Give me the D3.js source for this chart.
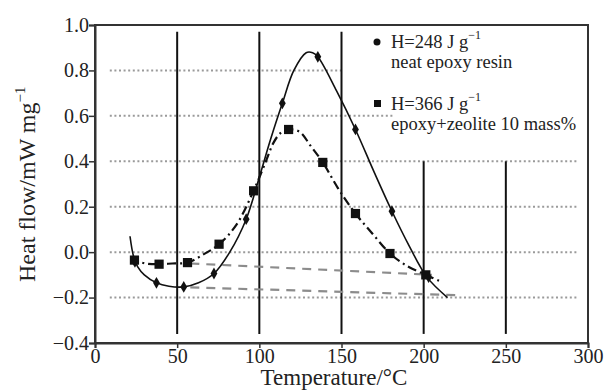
<!DOCTYPE html>
<html>
<head>
<meta charset="utf-8">
<script src="https://cdn.jsdelivr.net/npm/d3@7"></script>
<style>
  body { margin: 0; background: #fff; }
  text { font-family: "Liberation Serif", "Times New Roman", serif; fill: #222; }
</style>
</head>
<body>
<div id="chart"></div>
<script>
// neat epoxy resin, solid line [temperature, heat flow]
var neatCurve = [[21.3,0.07],[23.5,-0.02],[26,-0.065],[30,-0.1],[37.4,-0.135],[45,-0.15],[54,-0.153],
  [63,-0.135],[72.4,-0.094],[82,0.0],[92,0.145],[100,0.33],[107,0.5],[114,0.655],[121,0.8],
  [128.5,0.878],[132.4,0.878],[135.6,0.86],[147,0.71],[158.5,0.54],[170,0.35],[180.7,0.18],
  [191,0.03],[202,-0.11],[214.5,-0.2]];
var neatMarkers = [[24.3,-0.043],[37.4,-0.135],[54,-0.153],[72.4,-0.094],[92,0.145],[114,0.655],
  [135.6,0.86],[158.5,0.54],[180.7,0.18],[203,-0.11]];

// epoxy + zeolite 10 mass%, dash-dot line
var zeoCurve = [[22,-0.02],[24,-0.035],[31,-0.05],[39,-0.053],[47,-0.05],[56.3,-0.046],[66,-0.01],
  [75.5,0.035],[86,0.12],[96.5,0.27],[104,0.4],[108.5,0.48],[113,0.525],[117.8,0.54],[124.5,0.53],
  [131,0.47],[138.6,0.395],[148,0.28],[158.5,0.17],[169,0.08],[179.5,-0.006],[189,-0.057],
  [201.3,-0.1],[210.5,-0.13]];
var zeoMarkers = [[24,-0.035],[39,-0.053],[56.3,-0.046],[75.5,0.035],[96.5,0.27],[117.8,0.54],
  [138.6,0.395],[158.5,0.17],[179.5,-0.006],[201.3,-0.1]];

// integration baselines (gray dashed)
var baseUpper = [[58,-0.05],[205,-0.1]];
var baseLower = [[58,-0.155],[222,-0.19]];

// reference verticals: temperature, top value
var vLines = [[50,0.97],[100,0.97],[150,0.97],[200,0.4],[250,0.4]];
var vBottom = -0.36;
// dotted horizontals: value, start temp, end temp
var hLines = [[0.8,9,150],[0.6,9,181],[0.4,9,293],[0.2,9,293],[0.0,9,293],[-0.2,9,293]];

var xTicks = [0,50,100,150,200,250,300];
var yTicks = [-0.4,-0.2,0.0,0.2,0.4,0.6,0.8,1.0];

var width = 606, height = 391;
var margin = { left: 95, top: 25, right: 18, bottom: 48 };

var svg = d3.select("#chart").append("svg")
  .attr("width", width).attr("height", height);

var x = d3.scaleLinear().domain([0,300]).range([margin.left, width - margin.right]);
var y = d3.scaleLinear().domain([-0.4,1.0]).range([height - margin.bottom, margin.top]);

// dotted grid
svg.selectAll(".hgrid").data(hLines).enter().append("line")
  .attr("x1", function(d) { return x(d[1]); })
  .attr("x2", function(d) { return x(d[2]); })
  .attr("y1", function(d) { return y(d[0]); })
  .attr("y2", function(d) { return y(d[0]); })
  .attr("stroke", "#9a9a9a").attr("stroke-width", 2)
  .attr("stroke-dasharray", "2,2.6");

// vertical lines
svg.selectAll(".vline").data(vLines).enter().append("line")
  .attr("x1", function(d) { return x(d[0]); })
  .attr("x2", function(d) { return x(d[0]); })
  .attr("y1", function(d) { return y(d[1]); })
  .attr("y2", y(vBottom))
  .attr("stroke", "#111").attr("stroke-width", 2);

var line = d3.line()
  .x(function(d) { return x(d[0]); })
  .y(function(d) { return y(d[1]); })
  .curve(d3.curveCatmullRom);

// baselines
[baseUpper, baseLower].forEach(function(b) {
  svg.append("path").attr("d", line(b))
    .attr("fill", "none").attr("stroke", "#8c8c8c").attr("stroke-width", 2.2)
    .attr("stroke-dasharray", "9,7");
});

svg.append("path").attr("d", line(zeoCurve))
  .attr("fill", "none").attr("stroke", "#111").attr("stroke-width", 2.2)
  .attr("stroke-dasharray", "9,4,2,4");

svg.append("path").attr("d", line(neatCurve))
  .attr("fill", "none").attr("stroke", "#111").attr("stroke-width", 1.6);

svg.selectAll(".diamond").data(neatMarkers).enter().append("path")
  .attr("transform", function(d) { return "translate(" + x(d[0]) + "," + y(d[1]) + ")"; })
  .attr("d", d3.symbol().type(d3.symbolDiamond).size(40))
  .attr("fill", "#111");

svg.selectAll(".square").data(zeoMarkers).enter().append("path")
  .attr("transform", function(d) { return "translate(" + x(d[0]) + "," + y(d[1]) + ")"; })
  .attr("d", d3.symbol().type(d3.symbolSquare).size(85))
  .attr("fill", "#111");

// frame and axes
svg.append("rect")
  .attr("x", x(0)).attr("y", y(1.0))
  .attr("width", x(300) - x(0)).attr("height", y(-0.4) - y(1.0))
  .attr("fill", "none").attr("stroke", "#333").attr("stroke-width", 2);

var fmt = function(d) { return d3.format(".1f")(d).replace("-", "\u2212"); };

var yAxis = svg.append("g")
  .attr("transform", "translate(" + x(0) + ",0)")
  .call(d3.axisLeft(y).tickValues(yTicks).tickFormat(fmt).tickSize(6).tickPadding(0));
var xAxis = svg.append("g")
  .attr("transform", "translate(0," + y(-0.4) + ")")
  .call(d3.axisBottom(x).tickValues(xTicks).tickSize(5).tickPadding(1));

[xAxis, yAxis].forEach(function(a) {
  a.attr("font-family", "Liberation Serif").attr("font-size", 20);
  a.select(".domain").attr("stroke", "#333").attr("stroke-width", 2);
  a.selectAll(".tick line").attr("stroke", "#333").attr("stroke-width", 1.5);
  a.selectAll(".tick text").attr("fill", "#222");
});

svg.append("text")
  .attr("x", 334).attr("y", 385)
  .attr("text-anchor", "middle").style("font-size", "23px")
  .text("Temperature/\u00b0C");

var yl = svg.append("text")
  .attr("transform", "translate(35,282) rotate(-90)")
  .attr("text-anchor", "start").style("font-size", "24px");
yl.append("tspan").text("Heat flow/mW mg");
yl.append("tspan").attr("dy", -10).style("font-size", "15px").text("\u22121");

// legend
var legend = [
  { sym: "circle", h: "H=248 J g", label: "neat epoxy resin", y: 48 },
  { sym: "square", h: "H=366 J g", label: "epoxy+zeolite 10 mass%", y: 110 }
];
legend.forEach(function(l) {
  if (l.sym == "circle") {
    svg.append("circle").attr("cx", 377).attr("cy", l.y - 6).attr("r", 3.5).attr("fill", "#111");
  } else {
    svg.append("rect").attr("x", 374).attr("y", l.y - 10).attr("width", 7).attr("height", 7).attr("fill", "#111");
  }
  var t = svg.append("text").attr("x", 391).attr("y", l.y).style("font-size", "18.5px");
  t.append("tspan").text(l.h);
  t.append("tspan").attr("dy", -9).style("font-size", "12px").text("\u22121");
  svg.append("text").attr("x", 391).attr("y", l.y + 20).style("font-size", "18.5px").text(l.label);
});
</script>
</body>
</html>
